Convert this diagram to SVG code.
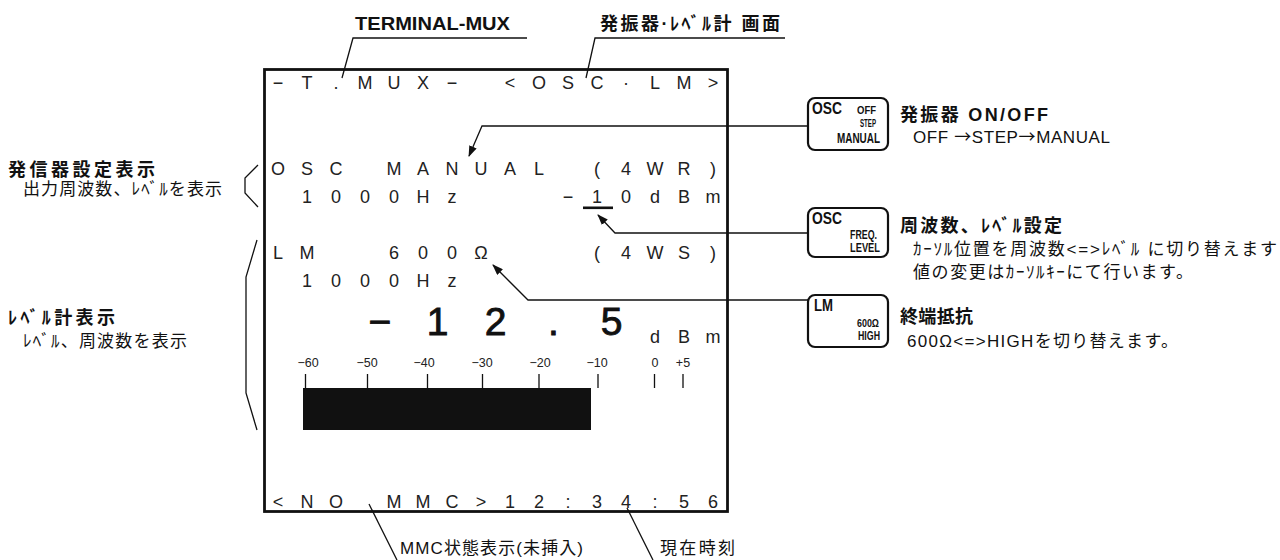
<svg xmlns="http://www.w3.org/2000/svg" width="1280" height="560" viewBox="0 0 1280 560">
<style>
.bg{fill:#fff}
.scr{font-family:"Liberation Sans","DejaVu Sans",sans-serif;font-size:18px;fill:#222;text-anchor:middle}
.big{font-family:"Liberation Sans","DejaVu Sans",sans-serif;font-size:39px;fill:#111;stroke:#111;stroke-width:0.9;text-anchor:middle}
.scale{font-family:"Liberation Sans","DejaVu Sans",sans-serif;font-size:12.5px;fill:#222;text-anchor:middle}
.jb{font-family:"Liberation Sans","Noto Sans CJK JP",sans-serif;font-weight:700;font-size:18px;fill:#111}
.jn{font-family:"Liberation Sans","Noto Sans CJK JP",sans-serif;font-weight:400;font-size:17px;fill:#111}
.cjk{font-family:"Noto Sans CJK JP",sans-serif}
.key{fill:#fff;stroke:#111;stroke-width:2.2}
.kt{font-family:"Liberation Sans","DejaVu Sans",sans-serif;font-weight:700;fill:#111}
.ln{fill:none;stroke:#111;stroke-width:1.3}
.arr{fill:none;stroke:#111;stroke-width:1.3;marker-end:url(#ah)}
.tick{stroke:#111;stroke-width:1.3}
</style>
<defs>
<marker id="ah" markerUnits="userSpaceOnUse" markerWidth="11" markerHeight="8" refX="10" refY="4" orient="auto">
<path d="M0,0 L11,4 L0,8 z" fill="#111"/>
</marker>
</defs>
<rect class="bg" x="0" y="0" width="1280" height="560"/>

<g id="screen">
<rect x="264.5" y="69.5" width="463" height="442" fill="#fff" stroke="#111" stroke-width="2.8"/>
<text class="scr" y="89" x="278 307 336 365 394 423 452 510 539 568 597 626 655 684 713">−T.MUX−&lt;OSC·LM&gt;</text>
<text class="scr" y="175" x="278 307 336 394 423 452 481 510 539 597 626 655 684 713">OSCMANUAL(4WR)</text>
<text class="scr" y="203" x="307 336 365 394 423 452 568 597 626 655 684 713">1000Hz−10dBm</text>
<rect x="583" y="206.5" width="30" height="2.6" fill="#111"/>
<text class="scr" y="259" x="278 307 394 423 452 481 597 626 655 684 713">LM600Ω(4WS)</text>
<text class="scr" y="287" x="307 336 365 394 423 452">1000Hz</text>
<text class="big" y="335" x="380 437.5 495.5 553.5 611.5">−12.5</text>
<text class="scr" y="343" x="655 684 713">dBm</text>
<g id="meter">
<text class="scale" y="367" x="308">−60</text>
<text class="scale" y="367" x="367">−50</text>
<text class="scale" y="367" x="424">−40</text>
<text class="scale" y="367" x="482">−30</text>
<text class="scale" y="367" x="540">−20</text>
<text class="scale" y="367" x="597">−10</text>
<text class="scale" y="367" x="655">0</text>
<text class="scale" y="367" x="683">+5</text>
<path class="tick" d="M305.5,374V388M367.5,374V388M427.5,374V388M482.5,374V388M539,374V388M598,374V388M654.5,374V388M683,374V388"/>
<rect x="303" y="388" width="288" height="42" fill="#111"/>
</g>
<text class="scr" y="508" x="278 307 336 394 423 452 481 510 539 568 597 626 655 684 713">&lt;NOMMC&gt;12:34:56</text>
</g>

<g id="label-terminal-mux">
<text class="jb" x="355" y="30" font-size="19" textLength="155" lengthAdjust="spacingAndGlyphs">TERMINAL-MUX</text>
</g>
<g id="label-osc-lm-screen">
<text class="jb" x="600" y="30" textLength="180" lengthAdjust="spacing">発振器·ﾚﾍﾞﾙ計 画面</text>
</g>

<g id="label-osc-setting">
<text class="jb" x="8" y="176" textLength="147" lengthAdjust="spacing">発信器設定表示</text>
<text class="jn" x="23" y="195" textLength="199" lengthAdjust="spacing">出力周波数、ﾚﾍﾞﾙを表示</text>
</g>
<g id="label-level-meter">
<text class="jb" x="8" y="324" textLength="107" lengthAdjust="spacing">ﾚﾍﾞﾙ計表示</text>
<text class="jn" x="23" y="347" textLength="164" lengthAdjust="spacing">ﾚﾍﾞﾙ、周波数を表示</text>
</g>

<g id="key-osc-onoff">
<rect class="key" x="808" y="98" width="80" height="52" rx="7"/>
<text class="kt" x="812" y="114" font-size="16" textLength="30" lengthAdjust="spacingAndGlyphs">OSC</text>
<text class="kt" x="857" y="114" font-size="11.5" textLength="19" lengthAdjust="spacingAndGlyphs">OFF</text>
<text class="kt" x="860" y="127" font-size="11.5" textLength="16" lengthAdjust="spacingAndGlyphs">STEP</text>
<text class="kt" x="837" y="143" font-size="14.5" textLength="43" lengthAdjust="spacingAndGlyphs">MANUAL</text>
</g>
<g id="desc-osc-onoff">
<text class="jb" x="900" y="121" textLength="148" lengthAdjust="spacing">発振器 ON/OFF</text>
<text class="jn" x="913" y="143" textLength="197" lengthAdjust="spacing">OFF <tspan class="cjk">→</tspan>STEP<tspan class="cjk">→</tspan>MANUAL</text>
</g>

<g id="key-osc-freq">
<rect class="key" x="808" y="208" width="80" height="49" rx="7"/>
<text class="kt" x="812" y="224" font-size="16" textLength="30" lengthAdjust="spacingAndGlyphs">OSC</text>
<text class="kt" x="850" y="239" font-size="13" textLength="27" lengthAdjust="spacingAndGlyphs">FREQ.</text>
<text class="kt" x="850" y="252" font-size="12.5" textLength="30" lengthAdjust="spacingAndGlyphs">LEVEL</text>
</g>
<g id="desc-osc-freq">
<text class="jb" x="900" y="232" textLength="162" lengthAdjust="spacing">周波数、ﾚﾍﾞﾙ設定</text>
<text class="jn" x="913" y="255" textLength="364" lengthAdjust="spacing">ｶｰｿﾙ位置を周波数&lt;=&gt;ﾚﾍﾞﾙ に切り替えます</text>
<text class="jn" x="913" y="278" textLength="280" lengthAdjust="spacing">値の変更はｶｰｿﾙｷｰにて行います。</text>
</g>

<g id="key-lm">
<rect class="key" x="808" y="295" width="80" height="52" rx="7"/>
<text class="kt" x="814" y="311" font-size="16" textLength="19" lengthAdjust="spacingAndGlyphs">LM</text>
<text class="kt" x="857" y="327" font-size="11" textLength="22" lengthAdjust="spacingAndGlyphs">600Ω</text>
<text class="kt" x="858" y="340" font-size="13" textLength="22" lengthAdjust="spacingAndGlyphs">HIGH</text>
</g>
<g id="desc-lm">
<text class="jb" x="900" y="323" textLength="73" lengthAdjust="spacing">終端抵抗</text>
<text class="jn" x="907" y="347" textLength="271" lengthAdjust="spacing">600Ω&lt;=&gt;HIGHを切り替えます。</text>
</g>

<g id="label-mmc">
<text class="jn" x="400" y="554" textLength="183" lengthAdjust="spacing">MMC状態表示(未挿入)</text>
</g>
<g id="label-time">
<text class="jn" x="660" y="554" textLength="75" lengthAdjust="spacing">現在時刻</text>
</g>

<g id="connectors">
<polyline class="ln" points="527,38 353,38 342,78"/>
<polyline class="ln" points="785,38 595,38 586,78"/>
<polyline class="arr" points="808,126 482,126 469,156"/>
<polyline class="arr" points="808,233 615,233 598,215"/>
<polyline class="arr" points="808,300 528,300 493,265"/>
<line class="ln" x1="369" y1="504" x2="397" y2="560"/>
<line class="ln" x1="627" y1="508" x2="653" y2="560"/>
<polyline class="ln" points="258,165 245,178 245,193 258,207"/>
<polyline class="ln" points="257,240 246,277 246,393 257,430"/>
</g>
</svg>
